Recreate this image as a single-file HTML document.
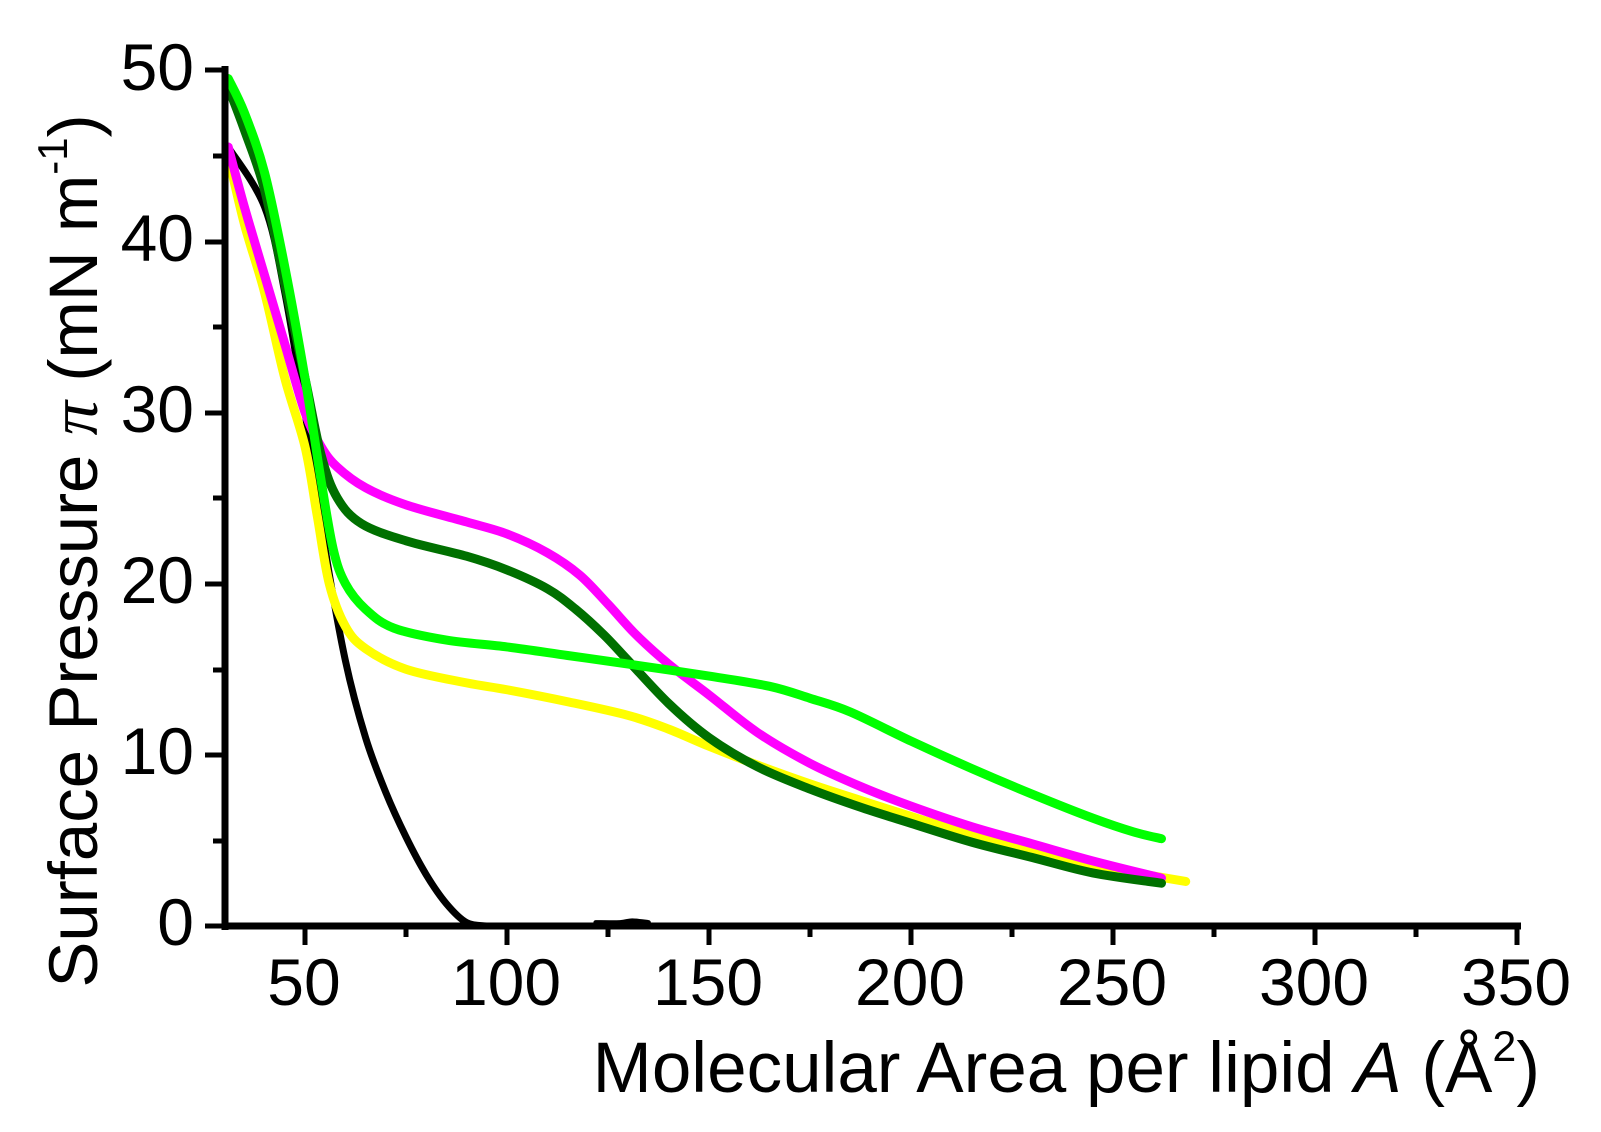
<!DOCTYPE html>
<html><head><style>body{margin:0;background:#fff}svg{display:block}</style></head><body>
<svg id="s" width="1601" height="1132" xmlns="http://www.w3.org/2000/svg" font-family="Liberation Sans, sans-serif">
<g id="curves" fill="none" stroke-linecap="round" stroke-linejoin="round"></g>
<g stroke="#000" stroke-width="7" fill="none">
<line x1="225" y1="66" x2="225" y2="930"/>
<line x1="222" y1="926" x2="1521" y2="926"/>
</g>
<g stroke="#000" stroke-width="5">
<line x1="205" y1="70" x2="225" y2="70"/><line x1="205" y1="242" x2="225" y2="242"/><line x1="205" y1="413" x2="225" y2="413"/><line x1="205" y1="584" x2="225" y2="584"/><line x1="205" y1="755" x2="225" y2="755"/><line x1="205" y1="926" x2="225" y2="926"/>
<line x1="213" y1="156" x2="225" y2="156"/><line x1="213" y1="327" x2="225" y2="327"/><line x1="213" y1="498" x2="225" y2="498"/><line x1="213" y1="670" x2="225" y2="670"/><line x1="213" y1="841" x2="225" y2="841"/>
<line x1="305" y1="926" x2="305" y2="945"/><line x1="507" y1="926" x2="507" y2="945"/><line x1="709" y1="926" x2="709" y2="945"/><line x1="911" y1="926" x2="911" y2="945"/><line x1="1113" y1="926" x2="1113" y2="945"/><line x1="1315" y1="926" x2="1315" y2="945"/><line x1="1517" y1="926" x2="1517" y2="945"/>
<line x1="406" y1="926" x2="406" y2="937"/><line x1="608" y1="926" x2="608" y2="937"/><line x1="810" y1="926" x2="810" y2="937"/><line x1="1012" y1="926" x2="1012" y2="937"/><line x1="1214" y1="926" x2="1214" y2="937"/><line x1="1416" y1="926" x2="1416" y2="937"/>
</g>
<g font-size="66" fill="#000" text-anchor="end">
<text x="194" y="90">50</text><text x="194" y="261">40</text><text x="194" y="432">30</text><text x="194" y="603">20</text><text x="194" y="774">10</text><text x="194" y="945">0</text>
</g>
<g font-size="66" fill="#000" text-anchor="middle">
<text x="304" y="1005">50</text><text x="506" y="1005">100</text><text x="708" y="1005">150</text><text x="910" y="1005">200</text><text x="1112" y="1005">250</text><text x="1314" y="1005">300</text><text x="1516" y="1005">350</text>
</g>
<text x="1540" y="1092" font-size="71" text-anchor="end" fill="#000">Molecular Area per lipid <tspan font-style="italic">A</tspan> (Å<tspan font-size="43" dy="-31">2</tspan><tspan dy="31">)</tspan></text>
<text transform="translate(97,551) rotate(-90)" font-size="69" text-anchor="middle" fill="#000">Surface Pressure <tspan font-style="italic" font-family="Liberation Serif, serif">π</tspan> (mN m<tspan font-size="42" dy="-30">-1</tspan><tspan dy="30">)</tspan></text>
</svg>
<script>
var S=[
["#000",7,[[31,45.5],[40,42],[45,37],[50,30],[55,22],[60,15.5],[65,11],[70,7.8],[75,5.2],[80,3],[85,1.3],[90,0.2],[95,0]]],
["#000",5,[[122,0.2],[128,0.2],[131,0.3],[135,0.2]]],
["#ffff00",9,[[31,45],[35,41],[40,37],[45,32],[50,28],[53,24],[56,20],[60,17.5],[65,16.2],[75,15],[90,14.2],[100,13.8],[115,13.1],[130,12.3],[140,11.5],[150,10.5],[162,9.4],[175,8.3],[188,7.3],[200,6.4],[215,5.3],[230,4.3],[245,3.5],[258,3],[268,2.6]]],
["#ff00ff",9,[[31,45.5],[35,42],[40,38],[45,34],[50,30],[54,28],[58,26.8],[65,25.6],[75,24.6],[90,23.6],[100,22.9],[110,21.8],[118,20.5],[125,18.8],[132,17],[140,15.3],[150,13.5],[162,11.3],[175,9.5],[188,8.1],[200,7],[215,5.8],[230,4.8],[245,3.8],[262,2.8]]],
["#007000",9,[[31,49],[35,46.5],[40,43],[45,37.5],[50,32],[54,27.5],[58,25],[64,23.5],[75,22.5],[90,21.6],[100,20.8],[110,19.7],[117,18.5],[124,17],[130,15.5],[140,13],[150,11],[162,9.3],[175,8],[188,6.9],[200,6],[215,4.9],[230,4],[245,3.1],[262,2.5]]],
["#00ff00",9,[[31,49.5],[35,47.5],[40,44],[45,38.5],[50,32],[54,26],[57,22],[60,20],[65,18.5],[72,17.4],[85,16.7],[100,16.3],[115,15.8],[130,15.3],[150,14.6],[165,14],[175,13.3],[185,12.5],[200,10.8],[215,9.2],[230,7.7],[245,6.3],[255,5.5],[262,5.1]]]
];
var g=document.getElementById("curves"),ns="http://www.w3.org/2000/svg";
function X(v){return 103+4.04*v}function Y(v){return 926-17.12*v}
S.forEach(function(s){var p=s[2].map(function(q){return [X(q[0]),Y(q[1])]});
var d="M"+p[0][0]+","+p[0][1];
for(var i=0;i<p.length-1;i++){var a=p[i-1]||p[i],b=p[i],c=p[i+1],e=p[i+2]||c;
d+="C"+(b[0]+(c[0]-a[0])/6)+","+(b[1]+(c[1]-a[1])/6)+" "+(c[0]-(e[0]-b[0])/6)+","+(c[1]-(e[1]-b[1])/6)+" "+c[0]+","+c[1];}
var el=document.createElementNS(ns,"path");el.setAttribute("d",d);el.setAttribute("stroke",s[0]);el.setAttribute("stroke-width",s[1]);g.appendChild(el);});
</script>
</body></html>
